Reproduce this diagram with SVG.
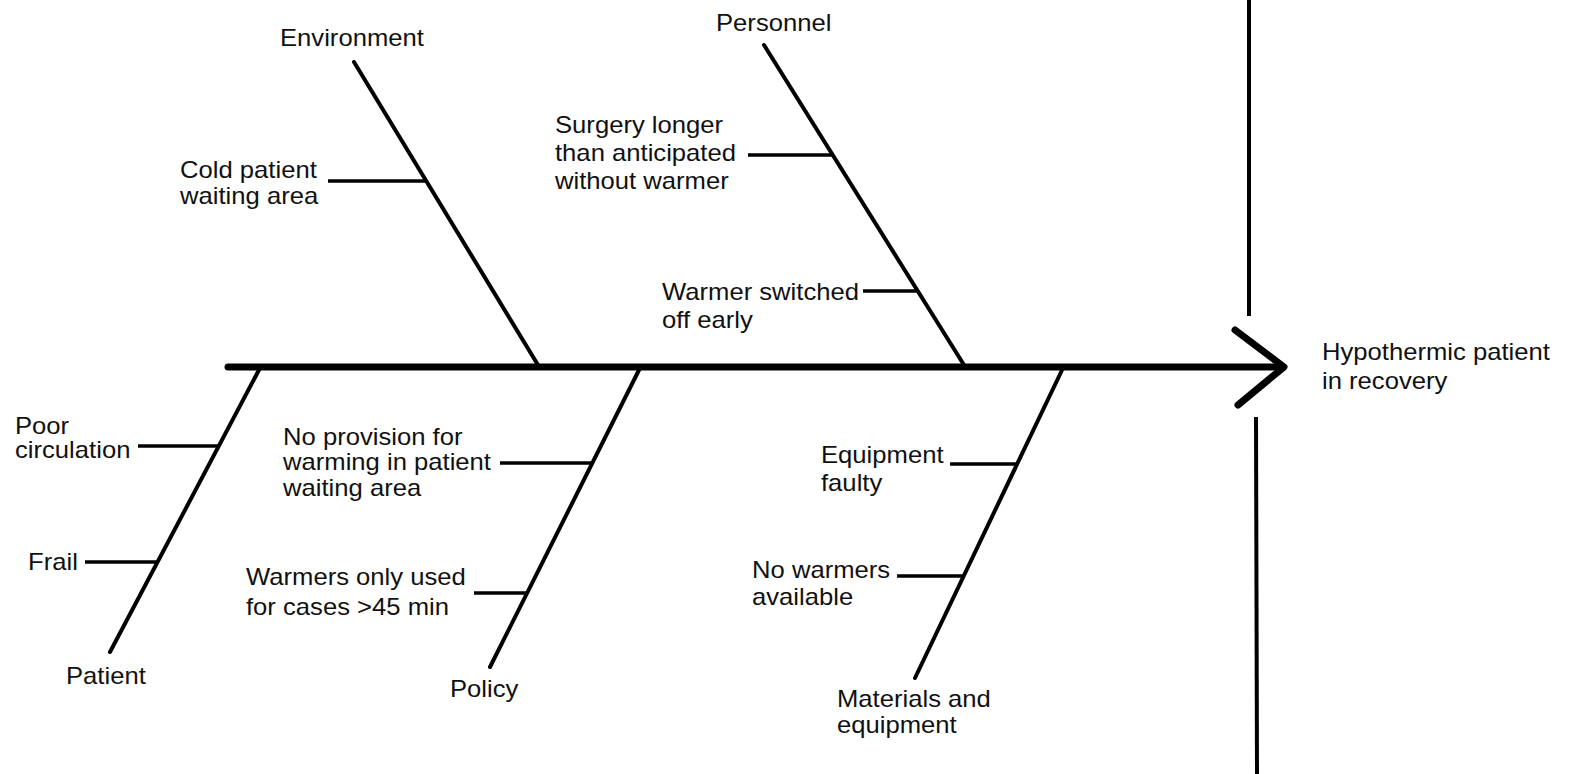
<svg xmlns="http://www.w3.org/2000/svg" width="1570" height="774" viewBox="0 0 1570 774">
<style>
text{font-family:"Liberation Sans",Arial,Helvetica,sans-serif;font-size:23px;fill:#111;}
.spine{stroke:#000;stroke-width:7;stroke-linecap:round;fill:none;}
.bone{stroke:#000;stroke-width:4;stroke-linecap:round;fill:none;}
.rib{stroke:#000;stroke-width:3.5;stroke-linecap:butt;fill:none;}
.frame{stroke:#000;stroke-width:4;fill:none;}
</style>
<rect width="1570" height="774" fill="#fff"/>
<g id="connectors">
<line class="spine" x1="228" y1="367" x2="1283" y2="367"/>
<polyline class="spine" points="1235,330 1284,367 1238,405" stroke-linejoin="round"/>
<line class="bone" x1="354" y1="62" x2="538" y2="365"/>
<line class="bone" x1="764" y1="45" x2="964" y2="365"/>
<line class="bone" x1="260" y1="368" x2="110" y2="652"/>
<line class="bone" x1="640" y1="368" x2="490" y2="667"/>
<line class="bone" x1="1063" y1="368" x2="915" y2="678"/>
<line class="rib" x1="328" y1="181" x2="426" y2="181"/>
<line class="rib" x1="748" y1="155" x2="832" y2="155"/>
<line class="rib" x1="863" y1="291" x2="918" y2="291"/>
<line class="rib" x1="138" y1="446" x2="219" y2="446"/>
<line class="rib" x1="85" y1="562" x2="157" y2="562"/>
<line class="rib" x1="500" y1="463" x2="593" y2="463"/>
<line class="rib" x1="474" y1="593" x2="527" y2="593"/>
<line class="rib" x1="950" y1="464" x2="1018" y2="464"/>
<line class="rib" x1="897" y1="576" x2="964" y2="576"/>
</g>
<g id="effect-frame">
<line class="frame" x1="1249" y1="0" x2="1249" y2="316"/>
<line class="frame" x1="1256" y1="417" x2="1257" y2="774"/>
</g>
<g id="effect">
<text transform="translate(1322,360) scale(1.115,1)"><tspan x="0" y="0">Hypothermic patient</tspan><tspan x="0" y="29">in recovery</tspan></text>
</g>
<g id="cat-environment">
<text transform="translate(280,46) scale(1.115,1)">Environment</text>
</g>
<g id="cause-cold-waiting-area">
<text transform="translate(180,178) scale(1.115,1)"><tspan x="0" y="0">Cold patient</tspan><tspan x="0" y="26">waiting area</tspan></text>
</g>
<g id="cat-personnel">
<text transform="translate(716,31) scale(1.115,1)">Personnel</text>
</g>
<g id="cause-surgery-longer">
<text transform="translate(555,133) scale(1.115,1)"><tspan x="0" y="0">Surgery longer</tspan><tspan x="0" y="28">than anticipated</tspan><tspan x="0" y="56">without warmer</tspan></text>
</g>
<g id="cause-warmer-off">
<text transform="translate(662,300) scale(1.115,1)"><tspan x="0" y="0">Warmer switched</tspan><tspan x="0" y="28">off early</tspan></text>
</g>
<g id="cat-patient">
<text transform="translate(66,684) scale(1.115,1)">Patient</text>
</g>
<g id="cause-poor-circulation">
<text transform="translate(15,434) scale(1.115,1)"><tspan x="0" y="0">Poor</tspan><tspan x="0" y="24">circulation</tspan></text>
</g>
<g id="cause-frail">
<text transform="translate(28,570) scale(1.115,1)">Frail</text>
</g>
<g id="cat-policy">
<text transform="translate(450,697) scale(1.115,1)">Policy</text>
</g>
<g id="cause-no-provision">
<text transform="translate(283,445) scale(1.115,1)"><tspan x="0" y="0">No provision for</tspan><tspan x="0" y="25">warming in patient</tspan><tspan x="0" y="51">waiting area</tspan></text>
</g>
<g id="cause-warmers-only">
<text transform="translate(246,585) scale(1.115,1)"><tspan x="0" y="0">Warmers only used</tspan><tspan x="0" y="30">for cases &gt;45 min</tspan></text>
</g>
<g id="cat-materials">
<text transform="translate(837,707) scale(1.115,1)"><tspan x="0" y="0">Materials and</tspan><tspan x="0" y="26">equipment</tspan></text>
</g>
<g id="cause-equipment-faulty">
<text transform="translate(821,463) scale(1.115,1)"><tspan x="0" y="0">Equipment</tspan><tspan x="0" y="28">faulty</tspan></text>
</g>
<g id="cause-no-warmers">
<text transform="translate(752,578) scale(1.115,1)"><tspan x="0" y="0">No warmers</tspan><tspan x="0" y="27">available</tspan></text>
</g>
</svg>
